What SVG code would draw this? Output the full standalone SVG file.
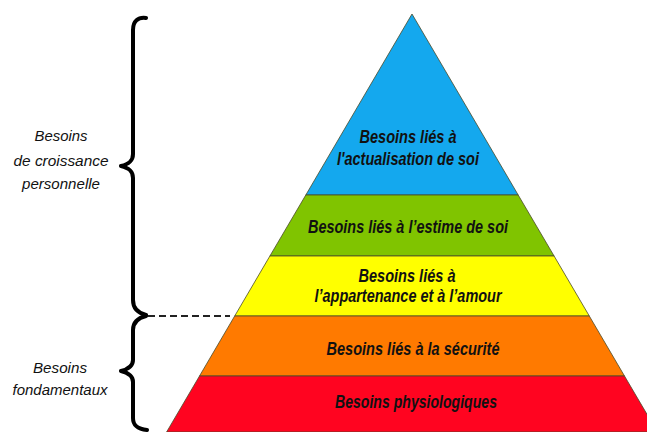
<svg xmlns="http://www.w3.org/2000/svg" width="647" height="432" viewBox="0 0 647 432">
<style>
.band{stroke:#4a4a2a;stroke-width:0.8}
.t{font-family:"Liberation Sans",Arial,sans-serif;font-weight:bold;font-style:italic;font-size:18px;fill:#111;text-anchor:middle}
.l{font-family:"Liberation Sans",Arial,sans-serif;font-style:italic;font-size:14px;fill:#111;text-anchor:middle}
.brace{fill:none;stroke:#000;stroke-width:4;stroke-linecap:round;stroke-linejoin:round}
.dash{fill:none;stroke:#222;stroke-width:2;stroke-dasharray:7 4}
</style>
<rect width="647" height="432" fill="#fff"/>
<g id="actualisation">
<polygon class="band" fill="#14a8ee" points="412,14 518.2,195 305.8,195"/>
<text class="t" x="408" y="143" textLength="97" lengthAdjust="spacingAndGlyphs">Besoins liés à</text>
<text class="t" x="408" y="165" textLength="142" lengthAdjust="spacingAndGlyphs">l'actualisation de soi</text>
</g>
<g id="estime">
<polygon class="band" fill="#80c400" points="305.8,195 518.2,195 554.1,256 269.9,256"/>
<text class="t" x="408" y="233" textLength="200" lengthAdjust="spacingAndGlyphs">Besoins liés à l’estime de soi</text>
</g>
<g id="appartenance">
<polygon class="band" fill="#ffff00" points="269.9,256 554.1,256 589.3,316 234.7,316"/>
<text class="t" x="407" y="282" textLength="97" lengthAdjust="spacingAndGlyphs">Besoins liés à</text>
<text class="t" x="408" y="302" textLength="187" lengthAdjust="spacingAndGlyphs">l’appartenance et à l’amour</text>
</g>
<g id="securite">
<polygon class="band" fill="#ff7a00" points="234.7,316 589.3,316 624.5,376 199.5,376"/>
<text class="t" x="413" y="355" textLength="173" lengthAdjust="spacingAndGlyphs">Besoins liés à la sécurité</text>
</g>
<g id="physiologiques">
<polygon class="band" fill="#ff0420" points="199.5,376 624.5,376 657.4,432 166.6,432"/>
<text class="t" x="416" y="408" textLength="162" lengthAdjust="spacingAndGlyphs">Besoins physiologiques</text>
</g>
<g id="croissance">
<text class="l" x="61" y="141" textLength="53" lengthAdjust="spacingAndGlyphs">Besoins</text>
<text class="l" x="61" y="166" textLength="95" lengthAdjust="spacingAndGlyphs">de croissance</text>
<text class="l" x="61" y="189" textLength="78" lengthAdjust="spacingAndGlyphs">personnelle</text>
</g>
<g id="fondamentaux">
<text class="l" x="60" y="373" textLength="54" lengthAdjust="spacingAndGlyphs">Besoins</text>
<text class="l" x="60" y="395" textLength="95" lengthAdjust="spacingAndGlyphs">fondamentaux</text>
</g>
<g id="connectors">
<path class="brace" d="M146,18 C138,17 133,21 133,30 L133,154 C133,161 129,164 121,166 C129,168 133,171 133,178 L133,300 C133,309 138,313 146,315"/>
<path class="brace" d="M146,316 C138,318 133,322 133,330 L133,360 C133,366 129,369 121,371 C129,373 133,376 133,382 L133,418 C133,426 138,429 147,430"/>
<line class="dash" x1="148" y1="316" x2="230" y2="316"/>
</g>
</svg>
